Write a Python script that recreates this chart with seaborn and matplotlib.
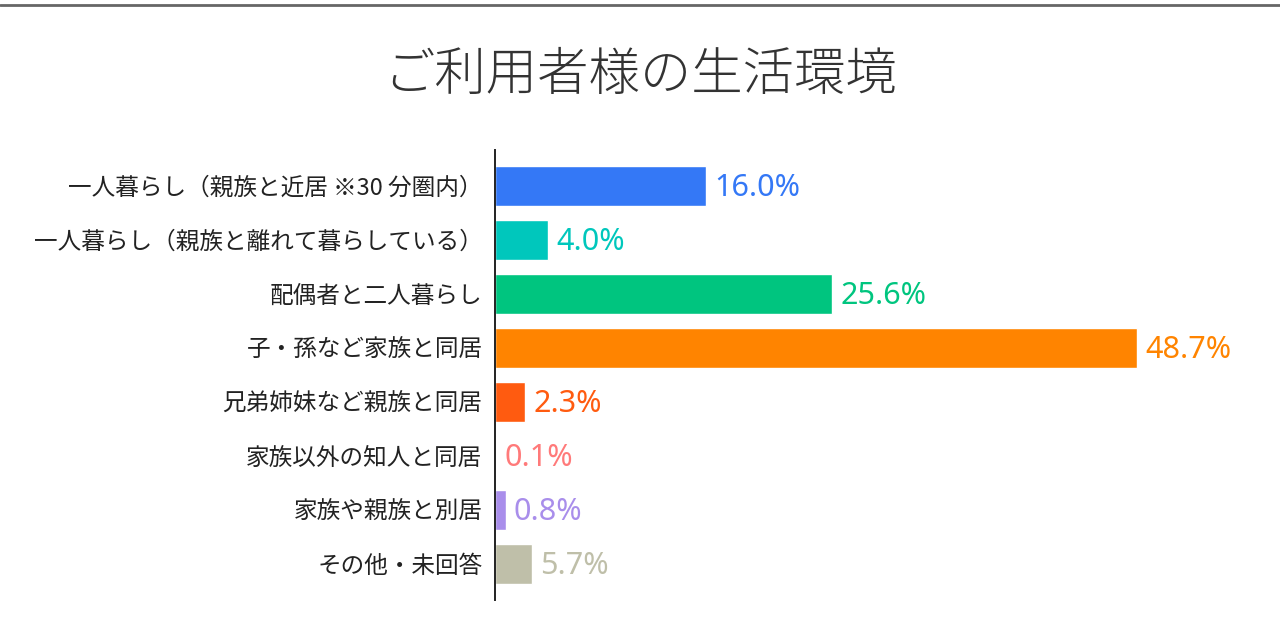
import matplotlib
matplotlib.use("Agg")
import matplotlib.pyplot as plt
from matplotlib.lines import Line2D
import seaborn as sns

# data
categories = [
    "一人暮らし（親族と近居 ※30 分圏内）",
    "一人暮らし（親族と離れて暮らしている）",
    "配偶者と二人暮らし",
    "子・孫など家族と同居",
    "兄弟姉妹など親族と同居",
    "家族以外の知人と同居",
    "家族や親族と別居",
    "その他・未回答",
]
# bar lengths as drawn (the last bar is drawn shorter than its label says)
bar_values = [16.0, 4.0, 25.6, 48.7, 2.3, 0.1, 0.8, 2.8]
value_labels = ["16.0%", "4.0%", "25.6%", "48.7%", "2.3%", "0.1%", "0.8%", "5.7%"]
colors = ["#3478F6", "#00C7BC", "#00C57F", "#FF8400",
          "#FF5B10", "#FF7A7A", "#A98EEB", "#BFBFA9"]

sns.set_style("white")
plt.rcParams["font.family"] = ["Noto Sans CJK JP", "DejaVu Sans"]

fig = plt.figure(figsize=(12.8, 6.4), dpi=100)
ax = fig.add_axes([495 / 1280, 40 / 640, 745 / 1280, 450 / 640])

sns.barplot(x=bar_values, y=categories, hue=categories, palette=colors,
            legend=False, orient="h", width=0.74, saturation=1, ax=ax)

ax.set_xlim(0, 745 / 13.18)
ax.set_ylim(7.667, -0.667)
ax.set_xticks([])
ax.set_xlabel("")
ax.set_ylabel("")
ax.tick_params(axis="y", length=0, pad=9, labelsize=17, labelcolor="#222222")

for side in ["top", "right", "bottom"]:
    ax.spines[side].set_visible(False)
ax.spines["left"].set_color("#222222")
ax.spines["left"].set_linewidth(1.4)

# value labels at the bar ends
for i, (v, lab, c) in enumerate(zip(bar_values, value_labels, colors)):
    ax.annotate(lab, (v, i), xytext=(6, -1.5), textcoords="offset points",
                ha="left", va="center", color=c, fontsize=22,
                family=["Noto Sans", "DejaVu Sans"])

fig.text(0.5, 1 - 76 / 640, "ご利用者様の生活環境", ha="center", va="center",
         fontsize=37, color="#333333", fontweight="light")

# gray rule across the top
fig.add_artist(Line2D([0, 1], [1 - 5 / 640, 1 - 5 / 640],
                      transform=fig.transFigure, color="#666666", linewidth=2))

fig.savefig("out.png", dpi=100)
